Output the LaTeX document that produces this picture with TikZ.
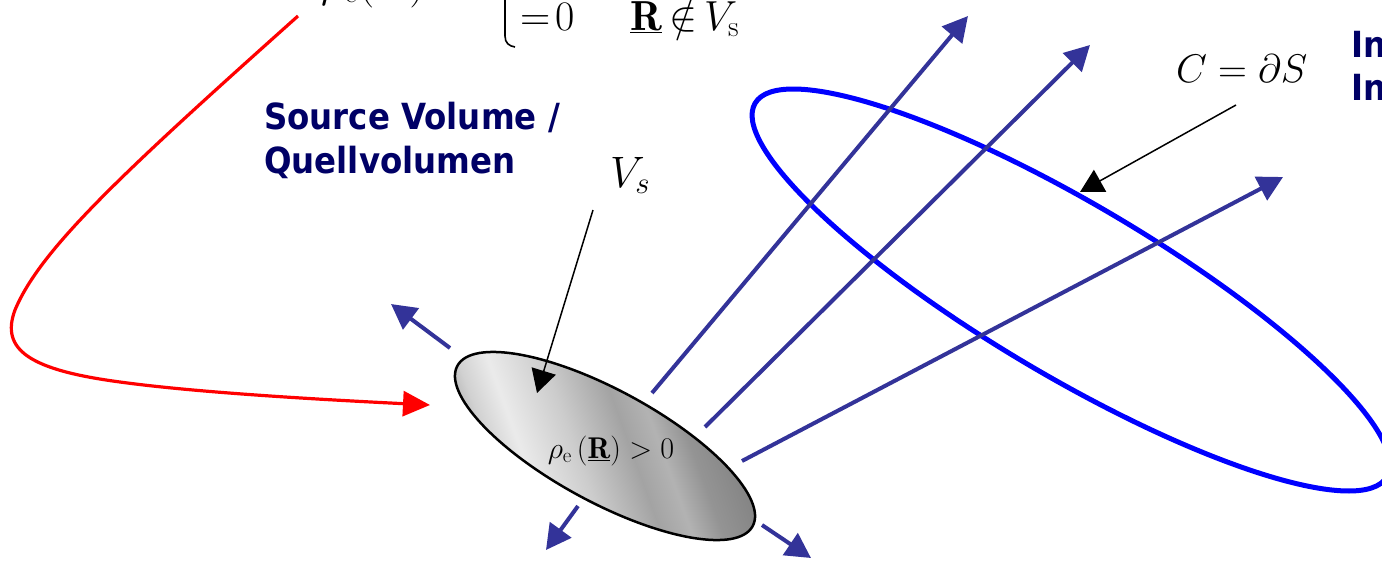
\RequirePackage{fix-cm}
\documentclass[tikz,border=0pt]{standalone}
\usepackage{fontspec}
\newfontfamily\labfont[FakeStretch=0.9]{DejaVu Sans}
\usetikzlibrary{arrows.meta}
\definecolor{fluxc}{RGB}{51,51,153}
\definecolor{navy}{RGB}{0,0,102}
\definecolor{ringc}{RGB}{0,0,255}
\definecolor{redc}{RGB}{255,0,0}
\pgfdeclarehorizontalshading{vsshade}{100bp}{color(0bp)=(black!40); color(25bp)=(black!40); color(31bp)=(black!18); color(36bp)=(black!8); color(45bp)=(black!20); color(54bp)=(black!36); color(59bp)=(black!30); color(64bp)=(black!42); color(75bp)=(black!52); color(100bp)=(black!52)}
\begin{document}
\begin{tikzpicture}[x=1pt,y=-1pt,
  flux/.style={draw=fluxc, line width=4pt, -{Triangle[length=25pt,width=26pt]}},
  ptr/.style={draw=black, line width=1.5pt, -{Triangle[length=23pt,width=25pt]}},
  mlab/.style={inner sep=0pt, font=\fontsize{#1}{#1}\selectfont},
  blab/.style={inner sep=0pt, text=navy, anchor=base west, font=\labfont\bfseries\fontsize{36}{43}\selectfont}]
\useasboundingbox (0,0) rectangle (1382,560);

% red curve
\coordinate (rs) at (298,16);
\coordinate (rt) at (430,405);
\draw[redc, line width=3.2pt, -{Triangle[length=27pt,width=25pt]}]
  (rs) .. controls (120,175) and (40,250) .. (15,310)
       .. controls (0,350) and (30,370) .. (120,382)
       .. controls (200,393) and (330,400) .. (rt);

% boundary curve C
\draw[ringc, line width=5pt, rotate around={-30.6:(1071,290)}]
  (1071,290) ellipse [x radius=367, y radius=86];

% flux arrows
\coordinate (a1s) at (652,393); \coordinate (a1t) at (968,16);
\coordinate (a2s) at (705,427); \coordinate (a2t) at (1090,45);
\coordinate (a3s) at (742,461); \coordinate (a3t) at (1283,177);
\coordinate (s1s) at (450,348); \coordinate (s1t) at (391,304);
\coordinate (s2s) at (578,506); \coordinate (s2t) at (546,550);
\coordinate (s3s) at (762,525); \coordinate (s3t) at (811,558);
\draw[flux] (a1s) -- (a1t);
\draw[flux] (a2s) -- (a2t);
\draw[flux] (a3s) -- (a3t);
\draw[flux] (s1s) -- (s1t);
\draw[flux] (s2s) -- (s2t);
\draw[flux] (s3s) -- (s3t);

% source volume
\path[draw=black, line width=2.5pt, shade, shading=vsshade, shading angle=20,
      rotate around={-28.5:(605,446)}]
  (605,446) ellipse [x radius=168, y radius=56];
\node[mlab=30, anchor=base] (rho) at (611,458) {$\rho_{\mathrm{e}}\,(\underline{\mathbf{R}})>0$};

% labels
\node[blab] (src1) at (264,129) {Source Volume /};
\node[blab] (src2) at (264,173) {Quellvolumen};
\node[blab] (in1) at (1351,57) {In};
\node[blab] (in2) at (1351,100) {In};

\node[mlab=44, anchor=base west] (vs) at (610,187) {$V_s$};
\node[mlab=40, anchor=base west] (cds) at (1176,82) {$C=\partial S$};

% top formula (cut by the frame)
\node[mlab=46, anchor=base west] (rhotop) at (321,-4) {$\rho_{\mathrm{e}}(\underline{\mathbf{R}})$};
\draw[line width=1.6pt] (505,-5) -- (505,36) .. controls (505,43) and (509,46) .. (515,47);
\node[mlab=42, anchor=base west] (eq0) at (520,30) {${=}\mskip2mu 0$};
\node[mlab=42, anchor=base west] (notin) at (630,30) {$\underline{\mathbf{R}}\mskip3mu{\notin}\mskip3mu V_{\mathrm{s}}$};

% pointers
\coordinate (vsp) at (593,210); \coordinate (vst) at (537,393);
\draw[ptr] (vsp) -- (vst);
\coordinate (cp) at (1236,105); \coordinate (ct) at (1080,192);
\draw[ptr] (cp) -- (ct);
\end{tikzpicture}
\end{document}
